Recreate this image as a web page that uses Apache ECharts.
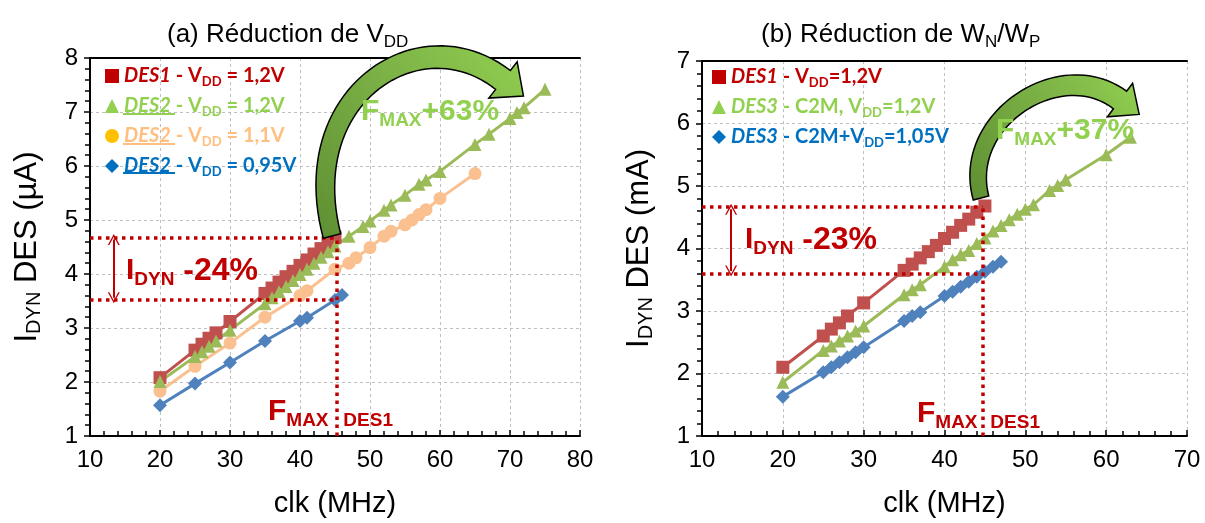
<!DOCTYPE html>
<html><head><meta charset="utf-8">
<script src="https://cdn.jsdelivr.net/npm/echarts@6/dist/echarts.min.js"></script>
<style>html,body{margin:0;padding:0;background:#fff}#c{width:1205px;height:523px}</style>
</head><body><div id="c"></div>
<script>
// ---------------- DATA ----------------
// Chart (a) : Réduction de VDD
const a_des1_x = [20,25,26,27,28,30,35,36,37,38,39,40,41,42,43,44,45];
const a_des1_y = [2.08,2.59,2.70,2.81,2.91,3.12,3.64,3.74,3.85,3.95,4.05,4.16,4.26,4.37,4.47,4.58,4.68];
const a_des2v12_x = [20,25,26,27,28,30,35,36,37,38,39,40,41,42,43,44,45,47,49,50,52,53,55,57,58,60,65,67,70,71,72,75];
const a_des2v12_y = [2.01,2.47,2.56,2.66,2.76,2.96,3.45,3.56,3.67,3.77,3.88,3.99,4.09,4.20,4.31,4.41,4.52,4.70,4.88,4.98,5.18,5.28,5.46,5.66,5.74,5.90,6.40,6.59,6.88,6.99,7.08,7.42];
const a_des2v11_x = [20,25,30,35,40,41,45,47,48,50,52,53,55,56,57,58,60,65];
const a_des2v11_y = [1.83,2.29,2.72,3.20,3.60,3.69,4.09,4.20,4.30,4.49,4.70,4.79,4.91,5.00,5.10,5.19,5.40,5.86];
const a_des2v095_x = [20,25,30,35,40,41,45,46];
const a_des2v095_y = [1.57,1.97,2.36,2.76,3.13,3.19,3.52,3.61];
// Chart (b) : Réduction de WN/WP
const b_des1_x = [20,25,26,27,28,30,35,36,37,38,39,40,41,42,43,44,45];
const b_des1_y = [2.10,2.60,2.71,2.81,2.92,3.13,3.65,3.75,3.85,3.95,4.05,4.16,4.26,4.37,4.47,4.58,4.68];
const b_des3c2m_x = [20,25,26,27,28,29,30,35,36,37,40,41,42,43,44,45,46,47,48,49,50,51,53,54,55,60,63];
const b_des3c2m_y = [1.86,2.37,2.44,2.52,2.60,2.68,2.76,3.26,3.34,3.42,3.71,3.82,3.90,3.97,4.08,4.17,4.28,4.37,4.46,4.55,4.63,4.70,4.93,5.01,5.10,5.50,5.78];
const b_des3vdd_x = [20,25,26,27,28,29,30,35,36,37,40,41,42,43,44,45,46,47];
const b_des3vdd_y = [1.63,2.02,2.10,2.18,2.26,2.34,2.42,2.84,2.92,2.98,3.24,3.31,3.39,3.47,3.55,3.63,3.71,3.79];
// annotation values (data units)
const a_idyn = [4.68, 3.52];   // I_DYN levels
const a_fmax = 45.3;           // F_MAX DES1
const a_arrowX = 13.4;
const b_idyn = [4.67, 3.60];
const b_fmax = 44.7;
const b_arrowX = 13.6;
// axis ticks
const a_xRange = [10, 80], a_yRange = [1, 8];
const b_xRange = [10, 70], b_yRange = [1, 7];
const xInterval = 10, yInterval = 1;

// ---------------- STYLE ----------------
const RED='#C0504D', GREEN='#9BBB59', PEACH='#FAC090', BLUE='#4F81BD';
const TRED='#C00000', TGREEN='#92D050', TORANGE='#FFBF80', TBLUE='#0070C0', GOLD='#FFC000';
const AF='Liberation Sans';
const LF='Lato';
const zip=(xs,ys)=>xs.map((x,i)=>[x,ys[i]]);

const chart = echarts.init(document.getElementById('c'), null, {renderer:'canvas'});

function xAxisCfg(gi, rng){
  return {type:'value', gridIndex:gi, min:rng[0], max:rng[1], interval:xInterval,
    axisLine:{show:true, onZero:false, lineStyle:{color:'#000', width:2}},
    axisTick:{show:true, inside:true, length:6, lineStyle:{color:'#000', width:1.5}},
    minorTick:{show:true, splitNumber:5, length:5, lineStyle:{color:'#000', width:1.5}},
    splitLine:{show:true, lineStyle:{color:'#BFBFBF', type:[3,3], width:1}},
    axisLabel:{fontSize:24, color:'#000', fontFamily:AF, margin:12},
    name:'clk (MHz)', nameLocation:'middle', nameGap:53,
    nameTextStyle:{fontSize:29, color:'#000', fontFamily:AF}};
}
function topAxisCfg(gi, rng){
  return {type:'value', gridIndex:gi, position:'top', min:rng[0], max:rng[1], interval:xInterval,
    axisLine:{show:true, onZero:false, lineStyle:{color:'#000', width:2}},
    axisTick:{show:false}, axisLabel:{show:false}, splitLine:{show:false}};
}
function yAxisCfg(gi, rng, unit){
  return {type:'value', gridIndex:gi, min:rng[0], max:rng[1], interval:yInterval,
    axisLine:{show:true, onZero:false, lineStyle:{color:'#000', width:2}},
    axisTick:{show:true, inside:false, length:6, lineStyle:{color:'#000', width:1.5}},
    minorTick:{show:true, splitNumber:5, length:5, lineStyle:{color:'#000', width:1.5}},
    splitLine:{show:true, lineStyle:{color:'#BFBFBF', type:[3,3], width:1}},
    axisLabel:{fontSize:24, color:'#000', fontFamily:AF, margin:12},
    name:'{i|I}{s|DYN}{n| DES ('+unit+')}', nameLocation:'middle', nameGap:46, nameRotate:90,
    nameTextStyle:{color:'#000', fontFamily:AF,
      rich:{i:{fontSize:31, lineHeight:34, fontFamily:AF, color:'#000'},
            n:{fontSize:31, lineHeight:34, fontFamily:AF, color:'#000'},
            s:{fontSize:20, lineHeight:20, verticalAlign:'bottom', fontFamily:AF, color:'#000'}}}};
}

function lineSeries(name, xi, yi, xs, ys, symbol, size, color, extra){
  return Object.assign({type:'line', name, xAxisIndex:xi, yAxisIndex:yi, data:zip(xs,ys),
    symbol, symbolSize:size, showAllSymbol:true,
    lineStyle:{color, width:3}, itemStyle:{color, opacity:1}, z:3}, extra||{});
}

const dotStyle = {color:TRED, width:3.5, type:[3.5,4.5]};
const vArrow = 'path://M0,12 L6,0 L12,12 L10.5,12 L6,3 L1.5,12 Z';
function idynMarks(idyn, fmax, ax, xmin, ymin){
  return {silent:true, symbol:'none', animation:false, label:{show:false},
    lineStyle:dotStyle,
    data:[
      [{coord:[xmin, idyn[0]]},{coord:[fmax, idyn[0]]}],
      [{coord:[xmin, idyn[1]]},{coord:[fmax, idyn[1]]}],
      [{coord:[fmax, ymin]},{coord:[fmax, idyn[0]]}],
      [{coord:[ax, idyn[0]-0.04], symbol:vArrow, symbolSize:[12,11]},
       {coord:[ax, idyn[1]+0.04], symbol:vArrow, symbolSize:[12,11],
        lineStyle:{color:TRED, width:2, type:'solid'}}]
    ]};
}

// legend rich texts
const legRich = {
  it:{fontFamily:LF, fontWeight:'bold', fontStyle:'italic', fontSize:20, lineHeight:24},
  n:{fontFamily:LF, fontWeight:'bold', fontSize:20, lineHeight:24},
  s:{fontFamily:LF, fontWeight:'bold', fontSize:13, lineHeight:13, verticalAlign:'bottom'}
};
const legText = {
  'A1':'{it|DES1}{n| - V}{s|DD}{n| = 1,2V}',
  'A2':'{it|DES2}{n| - V}{s|DD}{n| = 1,2V}',
  'A3':'{it|DES2}{n| - V}{s|DD}{n| = 1,1V}',
  'A4':'{it|DES2}{n| - V}{s|DD}{n| = 0,95V}',
  'B1':'{it|DES1}{n| - V}{s|DD}{n|=1,2V}',
  'B2':'{it|DES3}{n| - C2M, V}{s|DD}{n|=1,2V}',
  'B3':'{it|DES3}{n| - C2M+V}{s|DD}{n|=1,05V}'
};

// curved arrow polygon (decoration)
function arcArrow(P, w0, w1, hh, hl){
  const bez=t=>{const u=1-t;return [u*u*u*P[0][0]+3*u*u*t*P[1][0]+3*u*t*t*P[2][0]+t*t*t*P[3][0],
                                   u*u*u*P[0][1]+3*u*u*t*P[1][1]+3*u*t*t*P[2][1]+t*t*t*P[3][1]];};
  const der=t=>{const u=1-t;const dx=3*u*u*(P[1][0]-P[0][0])+6*u*t*(P[2][0]-P[1][0])+3*t*t*(P[3][0]-P[2][0]);
                const dy=3*u*u*(P[1][1]-P[0][1])+6*u*t*(P[2][1]-P[1][1])+3*t*t*(P[3][1]-P[2][1]);
                const l=Math.hypot(dx,dy);return [dx/l,dy/l];};
  const L=[],R=[];const N=48;
  for(let i=0;i<=N;i++){const t=i/N;const p=bez(t);const d=der(t);const n=[-d[1],d[0]];const w=(w0+(w1-w0)*t)/2;
    L.push([p[0]+n[0]*w,p[1]+n[1]*w]);R.push([p[0]-n[0]*w,p[1]-n[1]*w]);}
  const p=bez(1),d=der(1),n=[-d[1],d[0]];
  const pts=L.concat([[p[0]+n[0]*hh,p[1]+n[1]*hh],[p[0]+d[0]*hl,p[1]+d[1]*hl],[p[0]-n[0]*hh,p[1]-n[1]*hh]],R.reverse());
  return pts;
}
const arrowFill = ()=>new echarts.graphic.LinearGradient(0,1,1,0,[{offset:0,color:'#5E8F32'},{offset:0.6,color:'#7DB347'},{offset:1,color:'#92D050'}]);

const annRich = (c)=>({
  a:{fontFamily:AF, fontWeight:'bold', fontSize:30, lineHeight:36, fill:c},
  b:{fontFamily:AF, fontWeight:'bold', fontSize:19, lineHeight:19, verticalAlign:'bottom', fill:c},
  c:{fontFamily:AF, fontWeight:'bold', fontSize:32, lineHeight:36, fill:c}
});
function annText(x,y,text,c){
  return {type:'text', x, y, z:50, style:{text, rich:annRich(c), fill:c, verticalAlign:'top', align:'left'}};
}

const titleRich = {
  m:{fontSize:26, lineHeight:32, fontFamily:AF, fontWeight:'normal', color:'#000'},
  s:{fontSize:17, lineHeight:17, verticalAlign:'bottom', fontFamily:AF, fontWeight:'normal', color:'#000'}
};

const option = {
  animation:false,
  backgroundColor:'#fff',
  title:[
    {text:'{m|(a) Réduction de V}{s|DD}', left:162, top:14, textStyle:{fontWeight:'normal', rich:titleRich}},
    {text:'{m|(b) Réduction de W}{s|N}{m|/W}{s|P}', left:756, top:14, textStyle:{fontWeight:'normal', rich:titleRich}}
  ],
  grid:[
    {left:90, top:58, width:490, height:385, containLabel:false},
    {left:702, top:61, width:485, height:379, containLabel:false}
  ],
  xAxis:[xAxisCfg(0,a_xRange), xAxisCfg(1,b_xRange), topAxisCfg(0,a_xRange), topAxisCfg(1,b_xRange)],
  yAxis:[yAxisCfg(0,a_yRange,'µA'), yAxisCfg(1,b_yRange,'mA')],
  legend:[
    {orient:'vertical', left:100, top:59, itemGap:6, itemWidth:14, itemHeight:14, selectedMode:false,
     formatter:n=>legText[n], textStyle:{rich:legRich, lineHeight:24},
     data:[
      {name:'A1', icon:'rect', itemStyle:{color:TRED}, textStyle:{color:TRED}},
      {name:'A2', icon:'triangle', itemStyle:{color:TGREEN}, textStyle:{color:TGREEN}},
      {name:'A3', icon:'circle', itemStyle:{color:GOLD}, textStyle:{color:TORANGE}},
      {name:'A4', icon:'diamond', itemStyle:{color:TBLUE}, textStyle:{color:TBLUE}}
     ]},
    {orient:'vertical', left:707, top:60, itemGap:6, itemWidth:14, itemHeight:14, selectedMode:false,
     formatter:n=>legText[n], textStyle:{rich:legRich, lineHeight:24},
     data:[
      {name:'B1', icon:'rect', itemStyle:{color:TRED}, textStyle:{color:TRED}},
      {name:'B2', icon:'triangle', itemStyle:{color:TGREEN}, textStyle:{color:TGREEN}},
      {name:'B3', icon:'diamond', itemStyle:{color:TBLUE}, textStyle:{color:TBLUE}}
     ]}
  ],
  series:[
    lineSeries('A4',0,0,a_des2v095_x,a_des2v095_y,'diamond',14,BLUE),
    lineSeries('A3',0,0,a_des2v11_x,a_des2v11_y,'circle',13,PEACH),
    lineSeries('A1',0,0,a_des1_x,a_des1_y,'rect',13,RED,{markLine:idynMarks(a_idyn,a_fmax,a_arrowX,a_xRange[0],a_yRange[0])}),
    lineSeries('A2',0,0,a_des2v12_x,a_des2v12_y,'triangle',13,GREEN),
    lineSeries('B3',1,1,b_des3vdd_x,b_des3vdd_y,'diamond',14,BLUE),
    lineSeries('B1',1,1,b_des1_x,b_des1_y,'rect',13,RED,{markLine:idynMarks(b_idyn,b_fmax,b_arrowX,b_xRange[0],b_yRange[0])}),
    lineSeries('B2',1,1,b_des3c2m_x,b_des3c2m_y,'triangle',13,GREEN)
  ],
  graphic:[
    // curved arrows
    {type:'polygon', z:40, shape:{points:arcArrow([[332,236],[295,95],[420,15],[503,80]],18,24,23,26)},
     style:{fill:arrowFill(), stroke:'#000', lineWidth:1.5}},
    {type:'polygon', z:40, shape:{points:arcArrow([[981,198],[960,120],[1060,55],[1120,100]],16,22,21,24)},
     style:{fill:arrowFill(), stroke:'#000', lineWidth:1.5}},
    // annotations
    annText(126,253,'{a|I}{b|DYN}{c| -24%}',TRED),
    annText(268,394,'{a|F}{b|MAX}',TRED),
    annText(335,394,'{a| }{b|DES1}',TRED),
    annText(361,94,'{a|F}{b|MAX}{a|+63%}',TGREEN),
    annText(745,222,'{a|I}{b|DYN}{c| -23%}',TRED),
    annText(917,396,'{a|F}{b|MAX}',TRED),
    annText(982,396,'{a| }{b|DES1}',TRED),
    annText(996,113,'{a|F}{b|MAX}{a|+37%}',TGREEN),
    // underlines of DES2 in legend (a)
    {type:'line', z:50, shape:{x1:123,y1:114,x2:175,y2:114}, style:{stroke:TGREEN, lineWidth:2}},
    {type:'line', z:50, shape:{x1:123,y1:144,x2:175,y2:144}, style:{stroke:TORANGE, lineWidth:2}},
    {type:'line', z:50, shape:{x1:123,y1:173,x2:175,y2:173}, style:{stroke:TBLUE, lineWidth:2}}
  ]
};
chart.setOption(option);
</script>
</body></html>
